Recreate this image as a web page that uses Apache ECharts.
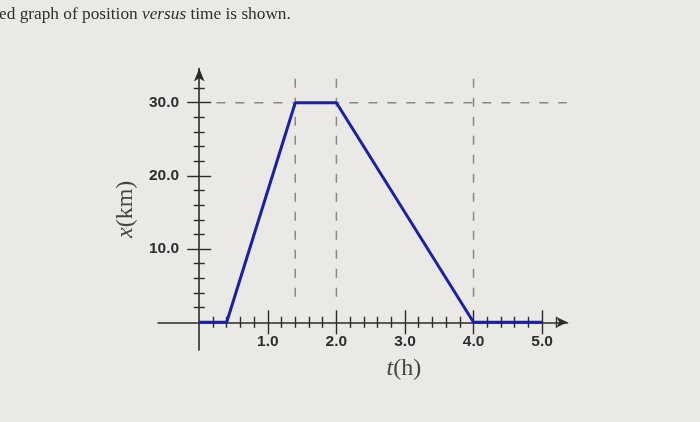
<!DOCTYPE html>
<html>
<head>
<meta charset="utf-8">
<script src="https://cdn.jsdelivr.net/npm/echarts@6/dist/echarts.min.js"></script>
<style>
  html, body { margin: 0; padding: 0; background: #ebe9e6; }
  #chart { width: 700px; height: 422px; }
</style>
</head>
<body>
<div id="chart"></div>
<script>
// position vs time data
const times = [0, 0.4, 1.4, 2.0, 4.0, 5.0];
const positions = [0, 0, 30, 30, 0, 0];

// tick values
const xMajorTicks = [1, 2, 3, 4, 5];
const xMinorTicks = [0.2, 0.4, 0.6, 0.8, 1.2, 1.4, 1.6, 1.8, 2.2, 2.4, 2.6, 2.8,
  3.2, 3.4, 3.6, 3.8, 4.2, 4.4, 4.6, 4.8, 5.2];
const yMajorTicks = [10, 20, 30];
const yMinorTicks = [2, 4, 6, 8, 12, 14, 16, 18, 22, 24, 26, 28, 32];

// dashed guide lines
const guideTimes = [1.4, 2.0, 4.0];
const guideSpan = [3.5, 34.2];
const guideLevel = 30;
const guideLevelSpan = [0.25, 5.36];

const X_MIN = -0.6, X_MAX = 5.37;
const Y_MIN = -3.8, Y_MAX = 34.67;

const axisColor = "#2a2a2a";
const labelFont = { color: "#2e2e2e", fontSize: 15.5, fontWeight: "bold", fontFamily: "Liberation Sans" };

const makeX = (ticks, len, inside, extra) => Object.assign({
  type: "value",
  min: X_MIN,
  max: X_MAX,
  position: "bottom",
  axisLine: { show: false, onZero: true, onZeroAxisIndex: 0 },
  axisTick: { show: true, inside: inside, length: len, customValues: ticks,
    lineStyle: { color: axisColor, width: 1.4 } },
  axisLabel: { show: false },
  splitLine: { show: false },
}, extra || {});

const makeY = (ticks, len, inside, extra) => Object.assign({
  type: "value",
  min: Y_MIN,
  max: Y_MAX,
  position: "left",
  axisLine: { show: false, onZero: true, onZeroAxisIndex: 0 },
  axisTick: { show: true, inside: inside, length: len, customValues: ticks,
    lineStyle: { color: axisColor, width: 1.4 } },
  axisLabel: { show: false },
  splitLine: { show: false },
}, extra || {});

const chart = echarts.init(document.getElementById("chart"));

const guideSeries = guideTimes.map((t) => ({
  type: "line",
  data: guideSpan.map((v) => [t, v]),
  symbol: "none",
  silent: true,
  lineStyle: { color: "#888888", width: 1.5, type: [9, 10] },
  z: 1,
}));
guideSeries.push({
  type: "line",
  data: guideLevelSpan.map((t) => [t, guideLevel]),
  symbol: "none",
  silent: true,
  lineStyle: { color: "#888888", width: 1.5, type: [9, 10] },
  z: 1,
});

const options = {
  animation: false,
  backgroundColor: "#ebe9e6",
  title: {
    text: "{a|ed graph of position }{b|versus}{a| time is shown.}",
    left: -1,
    top: 6,
    padding: 0,
    textStyle: {
      fontWeight: "normal",
      rich: {
        a: { fontFamily: "Liberation Serif", fontSize: 17.3, color: "#2f2f2f", fontWeight: "normal" },
        b: { fontFamily: "Liberation Serif", fontSize: 17.3, color: "#2f2f2f", fontWeight: "normal", fontStyle: "italic" },
      },
    },
  },
  grid: { left: 158.1, top: 68.5, width: 409.4, height: 281.6, outerBoundsMode: "none" },
  xAxis: [
    makeX(xMajorTicks, 12, false, {
      axisLine: { show: true, onZero: true, onZeroAxisIndex: 0, symbol: ["none", "arrow"],
        symbolSize: [8, 11], lineStyle: { color: axisColor, width: 1.6 } },
      axisLabel: { show: true, customValues: xMajorTicks, margin: -16,
        formatter: (v) => v.toFixed(1), ...labelFont },
      name: "{i|t}(h)",
      nameLocation: "middle",
      nameGap: 7,
      nameTextStyle: {
        fontFamily: "Liberation Serif", fontSize: 24, color: "#444", padding: [0, 0, 0, 82],
        rich: { i: { fontFamily: "Liberation Serif", fontSize: 24, color: "#444", fontStyle: "italic" } },
      },
    }),
    makeX(xMajorTicks, 12, true),
    makeX(xMinorTicks, 5.5, false),
    makeX(xMinorTicks, 5.5, true),
  ],
  yAxis: [
    makeY(yMajorTicks, 12, false, {
      axisLine: { show: true, onZero: true, onZeroAxisIndex: 0, symbol: ["none", "arrow"],
        symbolSize: [8, 13], lineStyle: { color: axisColor, width: 1.6 } },
      axisLabel: { show: true, customValues: yMajorTicks, margin: -21,
        formatter: (v) => v.toFixed(1), ...labelFont },
      name: "{i|x}(km)",
      nameLocation: "middle",
      nameGap: 20,
      nameTextStyle: {
        fontFamily: "Liberation Serif", fontSize: 24, color: "#444",
        rich: { i: { fontFamily: "Liberation Serif", fontSize: 24, color: "#444", fontStyle: "italic" } },
      },
    }),
    makeY(yMajorTicks, 12, true),
    makeY(yMinorTicks, 5.5, false),
    makeY(yMinorTicks, 5.5, true),
  ],
  series: [
    ...guideSeries,
    {
      name: "position",
      type: "line",
      data: times.map((t, i) => [t, positions[i]]),
      symbol: "none",
      lineStyle: { color: "#1c1fa8", width: 3 },
      z: 5,
    },
  ],
};

chart.setOption(options);
</script>
</body>
</html>
